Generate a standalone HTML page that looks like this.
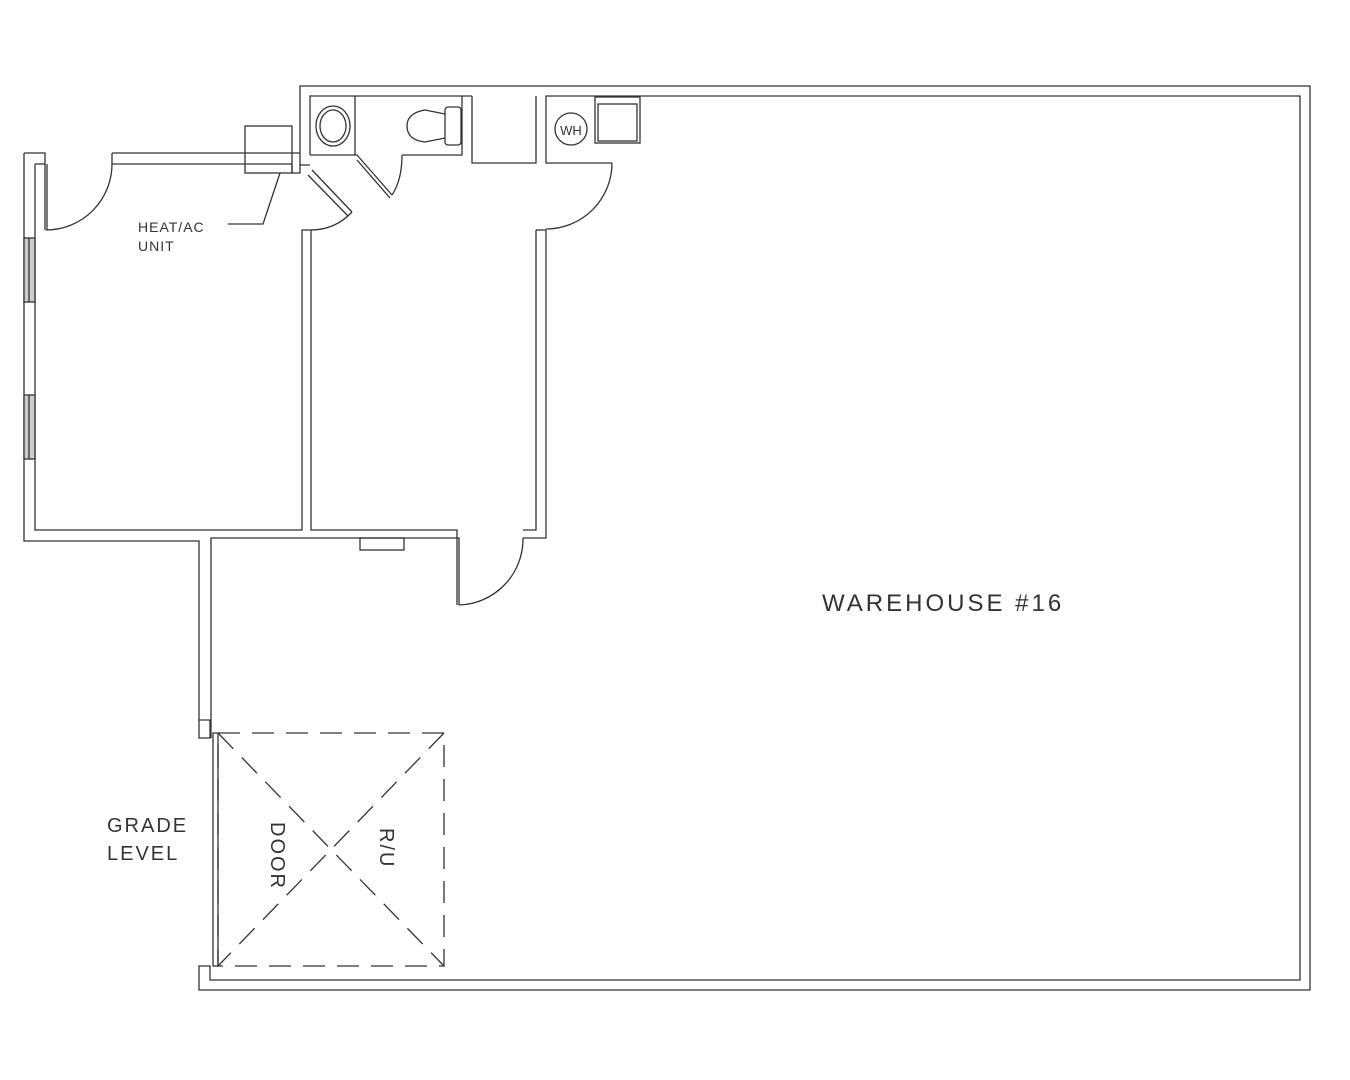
<!DOCTYPE html>
<html><head><style>html,body{margin:0;padding:0;background:#fff}svg{display:block}</style></head><body>
<svg width="1350" height="1080" viewBox="0 0 1350 1080" xmlns="http://www.w3.org/2000/svg" fill="none" stroke="#333" stroke-width="1.3" font-family="Liberation Sans, sans-serif">
<!-- outer building -->
<polyline points="300,165 300,86 1310,86 1310,990 199,990 199,966 210,966 210,980 1300,980 1300,96 546,96 546,163 612,163"/>
<polyline points="472,96 310,96 310,155"/>
<polyline points="472,96 472,163 536,163 536,96"/>
<!-- restroom box -->
<polyline points="355,96 355,155"/>
<polyline points="310,155 357,155 392,195"/>
<line x1="357" y1="160" x2="390" y2="198"/>
<path d="M392,195 Q402,180 402,155"/>
<polyline points="402,155 462,155 462,96"/>
<!-- top office wall -->
<polyline points="24,153 45,153 45,164"/>
<polyline points="112,153 300,153"/>
<polyline points="112,153 112,164 292,164 292,173 300,173 300,165 310,165"/>
<!-- door to hall -->
<line x1="312" y1="170" x2="352" y2="212"/>
<line x1="308" y1="175" x2="348" y2="216"/>
<path d="M352,212 Q335,230 311,230"/>
<!-- WH door -->
<path d="M612,163 A66,66 0 0 1 546,229"/>
<!-- left office -->
<polyline points="24,153 24,541 199,541 199,738 210,738 210,720 199,720"/>
<polyline points="35,164 35,530 302,530 302,230 311,230 311,530 457,530 457,605"/>
<line x1="35" y1="164" x2="45" y2="164"/>
<line x1="45" y1="164" x2="45" y2="230"/>
<line x1="47" y1="164" x2="47" y2="230"/>
<path d="M46,230 A66,66 0 0 0 112,164"/>
<rect x="24" y="238" width="11" height="64" fill="#ccc"/>
<rect x="24" y="395" width="11" height="64" fill="#ccc"/>
<line x1="29" y1="238" x2="29" y2="302"/><line x1="29" y1="395" x2="29" y2="459"/>
<!-- middle room right wall -->
<polyline points="536,230 536,530 523,530"/>
<polyline points="546,230 546,538 523,538"/>
<line x1="536" y1="230" x2="546" y2="230"/>
<polyline points="211,738 211,538 459,538 459,605"/>
<path d="M459,605 A66,66 0 0 0 523,538"/>
<rect x="360" y="538" width="44" height="12"/>
<!-- HVAC -->
<rect x="245" y="126" width="47" height="47"/>
<polyline points="280,173 263,224 228,224"/>
<!-- sink -->
<ellipse cx="333" cy="126" rx="17" ry="20"/>
<ellipse cx="333" cy="126" rx="13" ry="16"/>
<!-- toilet -->
<rect x="445" y="107" width="16" height="38" rx="3"/>
<path d="M445,114 L425,110 Q407,113 407,126 Q407,140 425,142 L445,138"/>
<!-- WH -->
<circle cx="571" cy="129" r="16"/>
<text x="571" y="135" font-size="13" fill="#333" stroke="none" text-anchor="middle">WH</text>
<rect x="595" y="97" width="45" height="46"/>
<rect x="598" y="104" width="39" height="37"/>
<!-- roll up door -->
<rect x="213" y="733" width="5" height="233"/>
<g stroke-dasharray="22,12">
<rect x="218" y="733" width="226" height="233"/>
<line x1="218" y1="733" x2="444" y2="966"/>
<line x1="444" y1="733" x2="218" y2="966"/>
</g>
<g fill="#333" stroke="none">
<text x="138" y="232" font-size="14" letter-spacing="1">HEAT/AC</text>
<text x="138" y="251" font-size="14" letter-spacing="1">UNIT</text>
<text x="822" y="611" font-size="24" letter-spacing="3">WAREHOUSE #16</text>
<text x="107" y="832" font-size="20" letter-spacing="2">GRADE</text>
<text x="107" y="860" font-size="20" letter-spacing="2">LEVEL</text>
<text transform="translate(271,822) rotate(90)" font-size="20" letter-spacing="2">DOOR</text>
<text transform="translate(380,828) rotate(90)" font-size="20" letter-spacing="2">R/U</text>
</g>
</svg>
</body></html>
